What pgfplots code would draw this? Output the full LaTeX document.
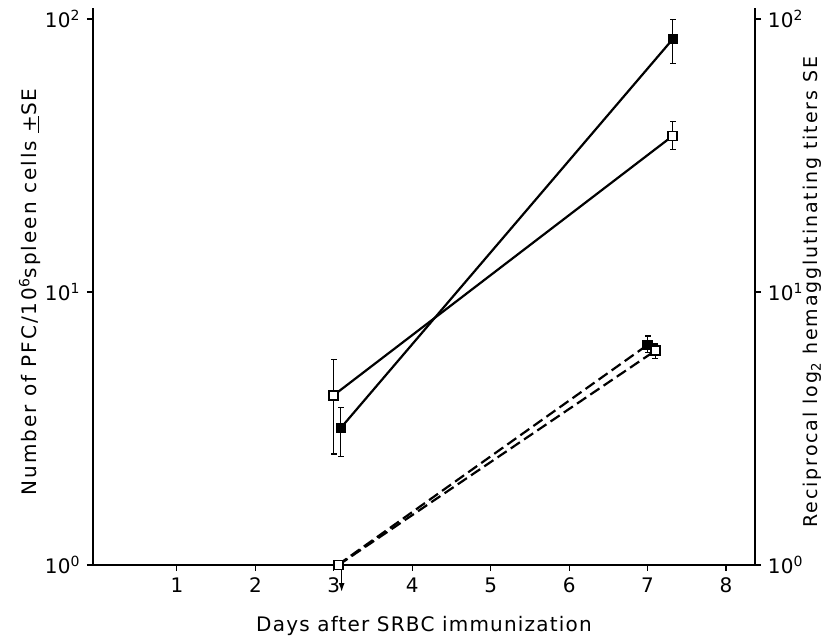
\documentclass[border=0pt]{standalone}
\usepackage{fontspec}
\setmainfont{DejaVu Sans}[LetterSpace=6]
\usepackage{pgfplots}
\usetikzlibrary{arrows.meta}
\pgfplotsset{compat=1.18}
\begin{document}
\fontsize{20bp}{24bp}\selectfont
\begin{tikzpicture}
\path[use as bounding box] (-93bp,-73bp) rectangle (732bp,565bp);
\begin{axis}[
  at={(0,0)}, anchor=south west,
  scale only axis, width=662bp, height=557bp,
  ymode=log, xmin=-0.07, xmax=8.37, ymin=1, ymax=109.7,
  axis line style={-, line width=1.3bp},
  tick style={line width=1.1bp, black},
  tick align=outside, major tick length=6bp,
  yminorticks=false,
  ytick={1,10,100},
  yticklabels={10\textsuperscript{0},10\textsuperscript{1},10\textsuperscript{2}},
  ticklabel style={font=\addfontfeature{LetterSpace=2}},
  /pgf/number format/assume math mode=true,
  clip=false,
  axis x line*=bottom, axis y line*=left,
  xtick={1,2,3,4,5,6,7,8},
  xlabel={Days after SRBC immunization},
  ylabel={\addfontfeature{LetterSpace=10}Number of PFC/10\textsuperscript{6}spleen cells \underline{+}SE},
  xlabel style={at={(axis description cs:0.5,-0.11)}, anchor=center},
  ylabel style={at={(axis description cs:-0.095,0.49)}, anchor=center},
]
% error bars
\addplot[forget plot, line width=1.2bp, mark=-, mark size=3bp] coordinates {(3.00,2.55) (3.00,5.65)};
\addplot[forget plot, line width=1.2bp, mark=-, mark size=3bp] coordinates {(3.09,2.49) (3.09,3.77)};
\addplot[forget plot, line width=1.2bp, mark=-, mark size=3bp] coordinates {(7.32,68.8) (7.32,99.7)};
\addplot[forget plot, line width=1.2bp, mark=-, mark size=3bp] coordinates {(7.32,33.3) (7.32,42.1)};
\addplot[forget plot, line width=1.2bp, mark=-, mark size=3bp] coordinates {(7.00,6.0) (7.00,6.9)};
\addplot[forget plot, line width=1.2bp, mark=-, mark size=3bp] coordinates {(7.10,5.7) (7.10,6.45)};
% PFC, solid
\addplot[line width=2.2bp, mark=square*, mark size=4.5bp, mark options={line width=1.2bp}] coordinates {(3.09,3.18) (7.32,84.3)};
\addplot[line width=2.2bp, mark=square*, mark size=4.5bp, mark options={fill=white, line width=1.8bp}] coordinates {(3.00,4.19) (7.32,37.3)};
% titers, dashed
\addplot[line width=2.2bp, dash pattern=on 11bp off 5bp, mark=square*, mark size=4.5bp, mark options={solid, line width=1.2bp}] coordinates {(3.05,1.0) (7.00,6.4)};
\addplot[line width=2.2bp, dash pattern=on 11bp off 5bp, mark=square*, mark size=4.5bp, mark options={solid, fill=white, line width=1.8bp}] coordinates {(3.06,1.0) (7.10,6.1)};
\coordinate (arr) at (axis cs:3.1,1);
\end{axis}
\draw[-{Latex[length=9bp,width=6bp]}, line width=1.4bp] ([yshift=-5bp]arr) -- ([yshift=-27bp]arr);
\begin{axis}[
  at={(0,0)}, anchor=south west,
  scale only axis, width=662bp, height=557bp,
  ymode=log, xmin=-0.07, xmax=8.37, ymin=1, ymax=109.7,
  axis line style={-, line width=1.3bp},
  tick style={line width=1.1bp, black},
  tick align=outside, major tick length=6bp,
  yminorticks=false,
  ytick={1,10,100},
  yticklabels={10\textsuperscript{0},10\textsuperscript{1},10\textsuperscript{2}},
  ticklabel style={font=\addfontfeature{LetterSpace=2}},
  axis x line=none, axis y line*=right,
  ylabel={\fontsize{19bp}{23bp}\selectfont\addfontfeature{LetterSpace=10}Reciprocal log\textsubscript{2} hemagglutinating titers SE},
  ylabel style={at={(axis description cs:1.087,0.49)}, anchor=center},
]
\addplot[draw=none] coordinates {(1,1)};
\end{axis}
\end{tikzpicture}
\end{document}
